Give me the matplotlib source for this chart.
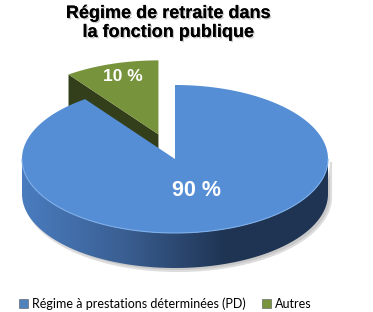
import matplotlib
matplotlib.use('Agg')
import matplotlib.pyplot as plt
import matplotlib.patheffects as pe
from matplotlib.patches import Polygon, Patch
from matplotlib.colors import LinearSegmentedColormap
import numpy as np

# donnees
labels = ['Régime à prestations déterminées (PD)', 'Autres']
values = [90, 10]
pct_labels = ['90 %', '10 %']
explode = [0.0, 0.35]
top_colors = ['#558ED5', '#77933C']
side_dark = ['#1F3453', '#323F1A']
side_light = ['#4A7CBF', '#3E4E22']
legend_colors = ['#4F81BD', '#77933C']
title = 'Régime de retraite dans\nla fonction publique'

# geometrie du camembert (pixels)
cx, cy = 175.0, 159.0
rx, ry = 153.0, 74.0
depth = 35.0

fig = plt.figure(figsize=(3.73, 3.12), dpi=100)
ax = fig.add_axes([0, 0, 1, 1])
ax.set_xlim(0, 373)
ax.set_ylim(312, 0)
ax.axis('off')


def pt(th, ox, oy, dz=0.0, r=1.0):
    t = np.radians(th)
    return cx + ox + r * rx * np.cos(t), cy + oy - r * ry * np.sin(t) + dz


# angles des parts (depart a 12h, sens horaire)
total = float(sum(values))
slices = []
start = 90.0
for i, v in enumerate(values):
    a2 = start
    a1 = start - 360.0 * v / total
    start = a1
    mid = np.radians((a1 + a2) / 2)
    ox = explode[i] * rx * np.cos(mid)
    oy = -explode[i] * ry * np.sin(mid)
    slices.append((i, a1, a2, ox, oy))

# ombre sous le bord avant
th = np.linspace(180, 360, 200)
sx, sy = pt(th, 3, 3, depth)
tx, ty = pt(th[::-1], 3, 3, 0)
ax.add_patch(Polygon(np.r_[np.c_[sx, sy], np.c_[tx, ty]], closed=True, fc='#c8c8c8',
                     ec='#dddddd', lw=1.5, zorder=0))

# des parts du fond vers l'avant
for i, a1, a2, ox, oy in sorted(slices, key=lambda s: s[4]):
    z = 2 + 3 * (i == 0)
    # faces radiales visibles
    for a, n in ((a2, a2 + 90), (a1, a1 - 90)):
        if np.sin(np.radians(n)) < -1e-6:
            x0, y0 = cx + ox, cy + oy
            x1, y1 = pt(a, ox, oy)
            quad = [(x0, y0), (x1, y1), (x1, y1 + depth), (x0, y0 + depth)]
            ax.add_patch(Polygon(quad, closed=True, fc=side_dark[i], ec='none', zorder=z))
    # bord exterieur (partie avant) avec degrade
    arc = np.linspace(a1, a2, 400)
    front = arc[np.sin(np.radians(arc)) < 0]
    if len(front) > 1:
        ux, uy = pt(front, ox, oy)
        bx, by = pt(front[::-1], ox, oy, depth)
        side = Polygon(np.r_[np.c_[ux, uy], np.c_[bx, by]], closed=True, fc='none', ec='none')
        ax.add_patch(side)
        cmap = LinearSegmentedColormap.from_list('s%d' % i, [side_light[i], '#3A5F92', side_dark[i], side_dark[i]]
                                                 if i == 0 else [side_light[i], side_dark[i]])
        grad = np.linspace(0, 1, 256)[None, :]
        im = ax.imshow(grad, cmap=cmap, aspect='auto', zorder=z,
                       extent=(cx + ox - rx, cx + ox + rx, uy.max() + depth + 2, uy.min() - 2))
        im.set_clip_path(side)
    # face du dessus
    xs, ys = pt(arc, ox, oy)
    top = np.r_[[[cx + ox, cy + oy]], np.c_[xs, ys]]
    ax.add_patch(Polygon(top, closed=True, fc=top_colors[i], ec='none', zorder=z + 1))
    if len(front) > 1:
        fx, fy = pt(front, ox, oy)
        ax.plot(fx, fy, color='#7DAEEA', lw=0.8, zorder=z + 1)

ax.set_xlim(0, 373)
ax.set_ylim(312, 0)

# etiquettes
lab_r = [0.45, 0.82]
lab_fs = [15.5, 12.5]
for i, a1, a2, ox, oy in slices:
    lx, ly = pt((a1 + a2) / 2, ox, oy, r=lab_r[i])
    ax.text(lx + 3 * i, ly, pct_labels[i], color='white', fontsize=lab_fs[i], fontweight='bold',
            family='Liberation Sans', ha='center', va='center', zorder=10)

ax.text(168, 23, title, ha='center', va='center', fontsize=13, fontweight='bold',
        family='Liberation Sans', linespacing=1.15, zorder=10,
        path_effects=[pe.withSimplePatchShadow(offset=(1, -1), shadow_rgbFace='#999999', alpha=0.5),
                      pe.Normal()])

handles = [Patch(fc=legend_colors[i], ec='#555555', lw=0.4) for i in range(len(labels))]
ax.legend(handles, labels, loc='center', bbox_to_anchor=(0.443, 1 - 303.5 / 312), ncol=2,
          frameon=False, handlelength=0.7, handleheight=0.7, handletextpad=0.35,
          columnspacing=1.3, prop={'family': 'Lato', 'size': 9})

fig.savefig('out.png', dpi=100)
